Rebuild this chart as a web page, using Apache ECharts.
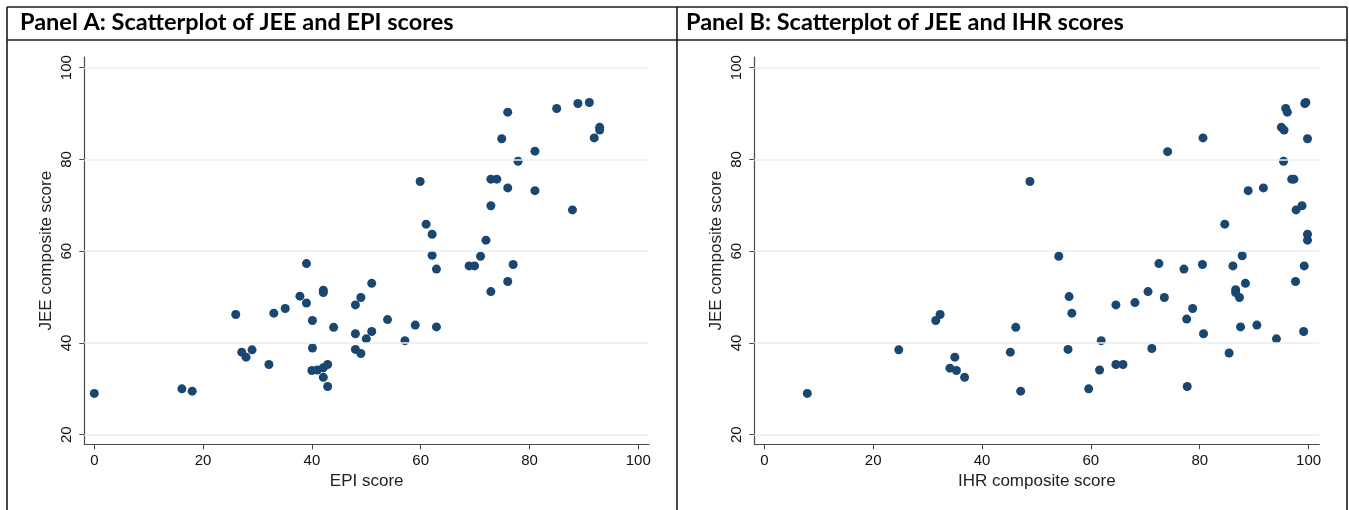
<!DOCTYPE html>
<html><head><meta charset="utf-8">
<script src="https://cdn.jsdelivr.net/npm/echarts@6/dist/echarts.min.js"></script>
<style>html,body{margin:0;padding:0;background:#fff}#c{width:1349px;height:510px}</style>
</head><body><div id="c"></div>
<script>
const panelTitles = ['Panel A: Scatterplot of JEE and EPI scores', 'Panel B: Scatterplot of JEE and IHR scores'];
const xAxisNames = ['EPI score', 'IHR composite score'];
const yAxisName = 'JEE composite score';
const xTickValues = [0, 20, 40, 60, 80, 100];
const yTickValues = [20, 40, 60, 80, 100];

// Panel A: EPI score vs JEE composite score
const epiScore = [0, 16.1, 18.0, 26.0, 27.1, 27.9, 29.0, 32.1, 33.0, 35.1, 37.8, 39.0, 39.0, 40.1, 40.1, 40.0, 41.0, 42.1, 42.9, 42.1, 42.9, 42.1, 42.1, 44.0, 48.0, 49.0, 51.0, 48.0, 50.0, 51.0, 48.0, 49.0, 53.9, 57.1, 59.0, 62.9, 62.9, 68.9, 69.9, 77.0, 72.9, 76.0, 59.9, 61.0, 62.1, 62.1, 71.0, 72.0, 72.9, 72.9, 74.0, 76.0, 74.9, 76.0, 77.9, 81.0, 81.0, 85.0, 88.9, 91.0, 87.9, 91.9, 92.9, 92.9];
const jeeA = [29.0, 30.0, 29.5, 46.2, 38.0, 36.9, 38.5, 35.3, 46.5, 47.5, 50.2, 48.7, 57.3, 44.9, 38.9, 34.0, 34.1, 34.6, 35.3, 32.5, 30.5, 51.5, 51.0, 43.4, 48.3, 49.9, 53.0, 42.0, 40.9, 42.5, 38.6, 37.7, 45.1, 40.5, 43.9, 43.5, 56.1, 56.8, 56.8, 57.1, 51.2, 53.4, 75.2, 65.9, 63.7, 59.1, 58.9, 62.4, 69.9, 75.7, 75.7, 73.8, 84.5, 90.3, 79.6, 81.8, 73.2, 91.1, 92.2, 92.4, 69.0, 84.7, 87.0, 86.4];

// Panel B: IHR composite score vs JEE composite score
const ihrScore = [7.9, 24.7, 31.5, 32.3, 35.0, 34.1, 35.3, 36.8, 45.2, 46.2, 47.1, 56.0, 56.5, 55.8, 59.6, 61.6, 61.9, 64.6, 64.6, 65.9, 68.1, 70.5, 71.2, 73.5, 72.5, 77.1, 77.6, 78.7, 77.7, 80.5, 80.7, 85.4, 86.1, 86.6, 86.6, 87.3, 88.4, 87.5, 90.5, 94.1, 97.6, 99.1, 99.2, 87.8, 48.8, 54.1, 74.1, 80.6, 84.6, 88.9, 91.7, 95.4, 96.9, 97.3, 97.7, 98.8, 99.8, 99.8, 95.0, 95.5, 95.8, 96.1, 99.3, 99.5, 99.8];
const jeeB = [29.0, 38.5, 44.9, 46.2, 36.9, 34.5, 34.0, 32.5, 38.0, 43.4, 29.5, 50.1, 46.5, 38.6, 30.0, 34.1, 40.5, 48.3, 35.3, 35.3, 48.8, 51.2, 38.8, 49.9, 57.3, 56.1, 45.2, 47.5, 30.5, 57.1, 42.0, 37.8, 56.8, 51.6, 51.0, 49.9, 53.0, 43.5, 43.9, 40.9, 53.4, 42.5, 56.8, 59.0, 75.2, 58.9, 81.7, 84.7, 65.9, 73.2, 73.8, 79.6, 75.7, 75.7, 69.0, 69.9, 63.7, 62.4, 87.0, 86.4, 91.1, 90.3, 92.2, 92.4, 84.5];

const pairs = (xs, ys) => xs.map((x, i) => [x, ys[i]]);
const dotColor = '#1a476f';
const axisColor = '#4a4a4a';
const tickFont = "'Liberation Sans', Arial, sans-serif";

const grids = [
  { left: 84.3, top: 57, width: 564.7, height: 387.3 },
  { left: 754.3, top: 57, width: 565, height: 387.3 }
];

function xAxisCfg(i) {
  return {
    type: 'value', gridIndex: i, min: -1.84, max: 101.97,
    name: xAxisNames[i], nameLocation: 'middle', nameGap: 29,
    nameTextStyle: { fontSize: 17, color: '#222', fontFamily: tickFont },
    axisLine: { show: true, onZero: false, lineStyle: { color: axisColor, width: 1.2 } },
    axisTick: { show: true, customValues: xTickValues, length: 5, lineStyle: { color: axisColor } },
    axisLabel: { customValues: xTickValues, fontSize: 15, color: '#111', margin: 9, fontFamily: tickFont },
    splitLine: { show: false }
  };
}
function yAxisCfg(i) {
  return {
    type: 'value', gridIndex: i, min: 17.91, max: 102.33,
    name: yAxisName, nameLocation: 'middle', nameGap: 29,
    nameTextStyle: { fontSize: 17, color: '#222', fontFamily: tickFont },
    axisLine: { show: true, onZero: false, lineStyle: { color: axisColor, width: 1.2 } },
    axisTick: { show: true, customValues: yTickValues, length: 5, lineStyle: { color: axisColor } },
    axisLabel: { customValues: yTickValues, rotate: 90, fontSize: 15, color: '#111', margin: 10, fontFamily: tickFont },
    splitLine: { show: false }
  };
}
function gridLines(i) {
  return {
    type: 'scatter', xAxisIndex: i, yAxisIndex: i, data: [], z: 1, silent: true,
    markLine: {
      silent: true, symbol: 'none', animation: false, label: { show: false },
      lineStyle: { color: '#e8f0f2', width: 1.5, type: 'solid' },
      data: yTickValues.map(v => ({ yAxis: v }))
    }
  };
}
function dots(i, data) {
  return {
    type: 'scatter', xAxisIndex: i, yAxisIndex: i, data: data, z: 3,
    symbol: 'circle', symbolSize: 9,
    itemStyle: { color: dotColor, opacity: 1 }
  };
}

const lineStyle = { stroke: '#1a1a1a', lineWidth: 1.6 };
const titleFont = 'bold 23.5px Lato, "Open Sans", sans-serif';

const chart = echarts.init(document.getElementById('c'), null, { renderer: 'canvas' });
chart.setOption({
  animation: false,
  backgroundColor: '#fff',
  grid: grids,
  xAxis: [xAxisCfg(0), xAxisCfg(1)],
  yAxis: [yAxisCfg(0), yAxisCfg(1)],
  series: [gridLines(0), gridLines(1), dots(0, pairs(epiScore, jeeA)), dots(1, pairs(ihrScore, jeeB))],
  graphic: [
    { type: 'line', shape: { x1: 7, y1: 7, x2: 1347, y2: 7 }, style: lineStyle },
    { type: 'line', shape: { x1: 7, y1: 40, x2: 1347, y2: 40 }, style: lineStyle },
    { type: 'line', shape: { x1: 7, y1: 7, x2: 7, y2: 510 }, style: lineStyle },
    { type: 'line', shape: { x1: 677, y1: 7, x2: 677, y2: 510 }, style: lineStyle },
    { type: 'line', shape: { x1: 1347, y1: 7, x2: 1347, y2: 510 }, style: lineStyle },
    { type: 'text', left: 20, top: 10, style: { text: panelTitles[0], font: titleFont, fill: '#000' } },
    { type: 'text', left: 686, top: 10, style: { text: panelTitles[1], font: titleFont, fill: '#000' } }
  ]
});
</script></body></html>
